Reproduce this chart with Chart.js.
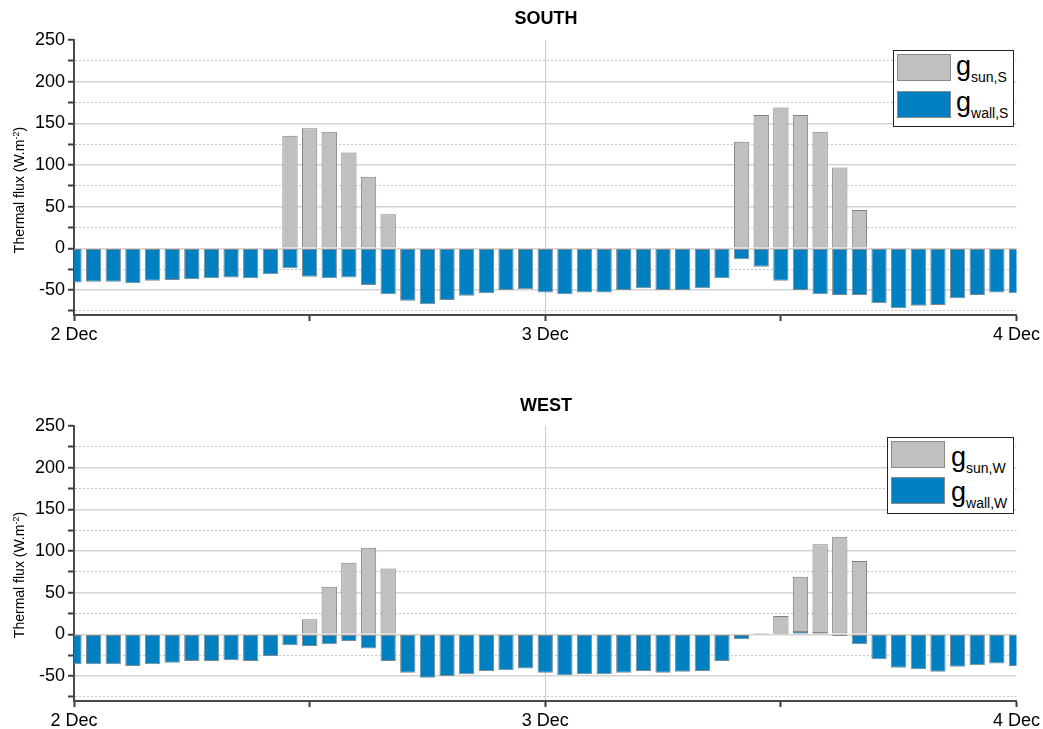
<!DOCTYPE html>
<html><head><meta charset="utf-8">
<script src="https://cdn.jsdelivr.net/npm/chart.js@4.4.0/dist/chart.umd.min.js"></script>
<style>
html,body{margin:0;padding:0;background:#fff;width:1043px;height:729px;overflow:hidden;font-family:"Liberation Sans",Arial,sans-serif;}
canvas{position:absolute;left:0;}
.title{position:absolute;left:446px;width:200px;text-align:center;font-weight:bold;font-size:18px;line-height:20px;color:#000;}
.ytitle{position:absolute;width:220px;text-align:center;font-size:14px;line-height:16px;color:#000;transform:rotate(-90deg);transform-origin:50% 50%;}
.ytitle sup{font-size:9px;vertical-align:5px;line-height:0;}
.lbox{position:absolute;border:1px solid #222;box-sizing:border-box;background:#fff;}
.sw{position:absolute;box-sizing:border-box;border:1px solid #8a8a8a;}
.lt{position:absolute;font-size:27px;line-height:27px;color:#000;white-space:nowrap;}
.lt sub{font-size:14px;vertical-align:-7px;line-height:0;}
</style></head>
<body>
<canvas id="cS" width="1043" height="360" style="top:0px"></canvas>
<canvas id="cW" width="1043" height="343" style="top:386px"></canvas>

<div class="title" style="top:8px">SOUTH</div>
<div class="title" style="top:395px">WEST</div>
<div class="ytitle" style="left:-91px;top:182px">Thermal flux (W.m<sup>-2</sup>)</div>
<div class="ytitle" style="left:-91px;top:567px">Thermal flux (W.m<sup>-2</sup>)</div>

<div class="lbox" style="left:893px;top:50px;width:121px;height:77px"></div>
<div class="sw" style="left:897px;top:54px;width:54px;height:27px;background:#c0c0c0"></div>
<div class="sw" style="left:897px;top:91px;width:54px;height:27px;background:#0080c0"></div>
<div class="lt" style="left:956px;top:53px">g<sub>sun,S</sub></div>
<div class="lt" style="left:956px;top:89px">g<sub>wall,S</sub></div>

<div class="lbox" style="left:887px;top:437px;width:127px;height:77px"></div>
<div class="sw" style="left:891px;top:441px;width:54px;height:27px;background:#c0c0c0"></div>
<div class="sw" style="left:891px;top:477px;width:54px;height:27px;background:#0080c0"></div>
<div class="lt" style="left:951px;top:444px">g<sub>sun,W</sub></div>
<div class="lt" style="left:951px;top:479px">g<sub>wall,W</sub></div>

<script>
// Hours from 2 Dec 00:00 to 4 Dec 00:00
const hours = [0,1,2,3,4,5,6,7,8,9,10,11,12,13,14,15,16,17,18,19,20,21,22,23,24,
  25,26,27,28,29,30,31,32,33,34,35,36,37,38,39,40,41,42,43,44,45,46,47,48];

// SOUTH
const southSun = [null,null,null,null,null,null,null,null,null,null,null,
  135,144,140,115,86,41,
  null,null,null,null,null,null,null,null,null,null,null,null,null,null,null,null,null,
  128,160,169,160,140,97,46,
  null,null,null,null,null,null,null,null];
const southWall = [-41,-40,-40,-42,-39,-38,-37,-36,-35,-36,-31,-24,-34,-36,-35,-44,-55,
  -63,-67,-62,-57,-54,-50,-49,-53,-55,-53,-53,-50,-48,-50,-50,-48,-36,
  -13,-22,-39,-50,-55,-56,-56,-66,-72,-69,-68,-60,-56,-53,-54];

// WEST
const westSun = [null,null,null,null,null,null,null,null,null,null,null,null,
  18,57,86,104,79,
  null,null,null,null,null,null,null,null,null,null,null,null,null,null,null,null,null,null,
  0.5,22,69,108,117,88,
  null,null,null,null,null,null,null,null];
const westWall = [-36,-36,-36,-38,-36,-34,-32,-32,-31,-32,-26,-13,-14,-12,-8,-17,-32,
  -46,-52,-50,-48,-44,-43,-41,-46,-49,-48,-48,-46,-44,-46,-45,-44,-32,
  -6,-0.5,0.5,4,3,-2,-12,-30,-40,-42,-45,-39,-37,-35,-38];

// Axis ticks
const xTickValues = [0,12,24,36,48];
const xTickLabels = ['2 Dec','','3 Dec','','4 Dec'];
const yMajorTicks = [-50,0,50,100,150,200,250];
const yMinorTicks = [-75,-25,25,75,125,175,225];
const yTicks = yMajorTicks.concat(yMinorTicks).sort((a,b)=>a-b);

const FONT = "'Liberation Sans', Arial, sans-serif";

function makeChart(id, sun, wall, xAxisHeight){
  const toPts = arr => hours.map((h,i)=>({x:h, y:arr[i]}));
  return new Chart(document.getElementById(id), {
    type: 'bar',
    data: {
      datasets: [
        {label:'sun', data: toPts(sun), backgroundColor:'#c0c0c0', borderColor:'#7f7f7f',
         borderWidth:1, borderSkipped:false, order:1},
        {label:'wall', data: toPts(wall), backgroundColor:'#0080c0', borderColor:'#7d8a92',
         borderWidth:1, borderSkipped:false, order:0}
      ]
    },
    options: {
      responsive:false, animation:false,
      layout:{padding:{top:40,right:25,bottom:0,left:0}},
      datasets:{bar:{grouped:false, barPercentage:0.78, categoryPercentage:1}},
      plugins:{legend:{display:false}, tooltip:{enabled:false}, title:{display:false}},
      scales:{
        x:{
          type:'linear', min:0, max:48, offset:false,
          afterFit: s => { s.height = xAxisHeight; },
          afterBuildTicks: s => { s.ticks = xTickValues.map(v=>({value:v})); },
          ticks:{autoSkip:false, maxRotation:0, padding:3, color:'#000',
            font:{family:FONT, size:18},
            callback: v => { const i = xTickValues.indexOf(v); return i>=0 ? xTickLabels[i] : ''; }},
          grid:{offset:false, drawTicks:true, tickLength:6, tickWidth:2,
            lineWidth:1,
            color: c => (c.tick && c.tick.value===24) ? '#c8c8c8' : 'rgba(0,0,0,0)',
            tickColor:'#3c3c3c'},
          border:{display:true, color:'#4a4a4a', width:2}
        },
        y:{
          type:'linear', min:-80, max:250,
          afterFit: s => { s.width = 74; },
          afterBuildTicks: s => { s.ticks = yTicks.map(v=>({value:v})); },
          ticks:{autoSkip:false, padding:3, color:'#000', font:{family:FONT, size:18},
            callback: v => yMajorTicks.includes(v) ? String(v) : ''},
          grid:{drawTicks:true, tickLength:6, tickWidth:2,
            lineWidth: c => (c.tick && yMajorTicks.includes(c.tick.value)) ? 1.5 : 1,
            color: c => {
              if (!c.tick) return 'rgba(0,0,0,0)';
              if (c.tick.value===250) return 'rgba(0,0,0,0)';
              return yMajorTicks.includes(c.tick.value) ? '#d4d4d4' : '#c4c4c4';
            },
            tickColor:'#3c3c3c'},
          border:{display:true, color:'#4a4a4a', width:2,
            dash: c => (c.tick && yMinorTicks.includes(c.tick.value)) ? [2,2] : []}
        }
      }
    }
  });
}

makeChart('cS', southSun, southWall, 45);
makeChart('cW', westSun, westWall, 28);
</script>
</body></html>
